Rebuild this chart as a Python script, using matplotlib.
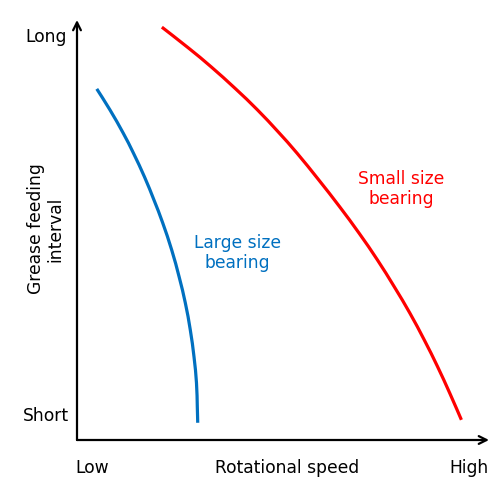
import matplotlib
matplotlib.use("Agg")
import matplotlib.pyplot as plt
from matplotlib.path import Path
from matplotlib.patches import PathPatch
import numpy as np

plt.rcParams['font.family'] = ['DejaVu Sans']

# Data (arbitrary units: speed 0-10, interval 0-10)
large_speed = [0.48, 0.80, 1.12, 1.37, 1.64, 1.87, 2.08, 2.30, 2.48, 2.63,
               2.75, 2.84, 2.90, 2.92, 2.93]
large_interval = [8.36, 7.86, 7.31, 6.83, 6.26, 5.71, 5.17, 4.52, 3.88, 3.26,
                  2.62, 1.98, 1.36, 0.79, 0.41]
small_speed = [2.06, 2.71, 3.25, 3.84, 4.38, 4.88, 5.34, 5.87, 6.37, 6.85,
               7.29, 7.70, 8.08, 8.43, 8.75, 9.05, 9.33]
small_interval = [9.83, 9.33, 8.89, 8.37, 7.86, 7.34, 6.83, 6.19, 5.56, 4.92,
                  4.29, 3.65, 3.02, 2.38, 1.75, 1.11, 0.48]

fig = plt.figure(figsize=(5, 5), dpi=100)
ax = fig.add_axes([77/500, 60/500, 412/500, 420/500])
ax.set_xlim(0, 10)
ax.set_ylim(0, 10)
ax.axis('off')

blue = '#0070C0'
red = '#FF0000'


def smooth_path(xs, ys):
    """Catmull-Rom rendering of the read points as cubic Bezier segments."""
    p = np.column_stack([xs, ys]).astype(float)
    verts = [p[0]]
    codes = [Path.MOVETO]
    n = len(p)
    for i in range(n - 1):
        p0 = p[i - 1] if i > 0 else p[i]
        p1 = p[i]
        p2 = p[i + 1]
        p3 = p[i + 2] if i + 2 < n else p[i + 1]
        c1 = p1 + (p2 - p0) / 6.0
        c2 = p2 - (p3 - p1) / 6.0
        verts += [c1, c2, p2]
        codes += [Path.CURVE4] * 3
    return Path(verts, codes)


for xs, ys, c in [(large_speed, large_interval, blue),
                  (small_speed, small_interval, red)]:
    ax.add_patch(PathPatch(smooth_path(xs, ys), facecolor='none', edgecolor=c,
                           lw=2.3, capstyle='butt'))

# axes arrows
arrow = dict(arrowstyle='->', color='black', lw=1.6, mutation_scale=14,
             shrinkA=0, shrinkB=0)
ax.annotate('', xy=(0, 1.0), xytext=(0, 0), xycoords='axes fraction', arrowprops=arrow)
ax.annotate('', xy=(1.0, 0), xytext=(0, 0), xycoords='axes fraction', arrowprops=arrow)

fs = 12.3
def px(x, y):
    return x/500, 1 - y/500

fig.text(*px(67, 37), 'Long', ha='right', va='center', fontsize=fs)
fig.text(*px(69, 416), 'Short', ha='right', va='center', fontsize=fs)
fig.text(*px(75, 468), 'Low', ha='left', va='center', fontsize=fs)
fig.text(*px(287, 468), 'Rotational speed', ha='center', va='center', fontsize=fs)
fig.text(*px(489, 468), 'High', ha='right', va='center', fontsize=fs)
fig.text(*px(46, 229), 'Grease feeding\ninterval', ha='center', va='center',
         rotation=90, fontsize=fs, linespacing=1.1)
fig.text(*px(237, 253), 'Large size\nbearing', ha='center', va='center',
         color=blue, fontsize=fs, linespacing=1.1)
fig.text(*px(401, 189), 'Small size\nbearing', ha='center', va='center',
         color=red, fontsize=fs, linespacing=1.1)

fig.savefig('out.png', dpi=100)
